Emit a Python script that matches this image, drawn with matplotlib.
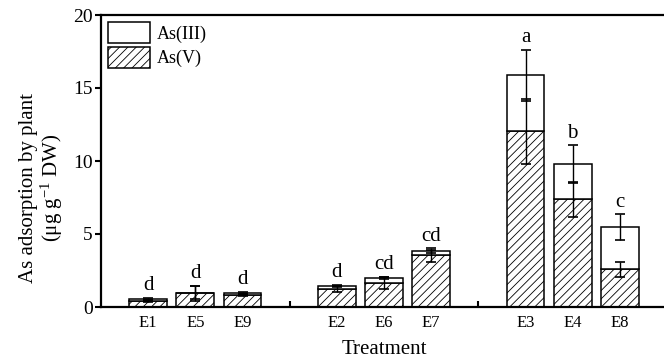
import numpy as np
import matplotlib
matplotlib.use("Agg")
import matplotlib.pyplot as plt

plt.rcParams['font.family'] = ['Liberation Serif', 'DejaVu Serif']
plt.rcParams['mathtext.fontset'] = 'custom'
plt.rcParams['mathtext.rm'] = 'Liberation Serif'
plt.rcParams['mathtext.it'] = 'Liberation Serif:italic'
plt.rcParams['hatch.linewidth'] = 0.6
plt.rcParams['hatch.color'] = '#555555'

# treatments, grouped with a blank slot between groups
treatments = ['E1', 'E5', 'E9', 'E2', 'E6', 'E7', 'E3', 'E4', 'E8']
positions = [1, 2, 3, 5, 6, 7, 9, 10, 11]
gap_positions = [4, 8]

as5 = [0.38, 0.93, 0.85, 1.25, 1.64, 3.55, 12.03, 7.37, 2.58]
as3 = [0.15, 0.05, 0.13, 0.17, 0.33, 0.26, 3.84, 2.40, 2.88]
err_total = [0.07, 0.46, 0.07, 0.07, 0.08, 0.12, 1.75, 1.30, 0.88]
err_as5 = [0.07, 0.50, 0.07, 0.20, 0.40, 0.47, 2.22, 1.22, 0.50]
letters = ['d', 'd', 'd', 'd', 'cd', 'cd', 'a', 'b', 'c']

as5 = np.array(as5)
as3 = np.array(as3)
total = as5 + as3

fig = plt.figure(figsize=(6.64, 3.63), dpi=100)
ax = fig.add_axes([101/664, 56/363, 566/664, 292/363])

ax.bar(positions, as5, width=0.8, color='white', edgecolor='black',
       linewidth=1.1, hatch='////', label='As(V)', zorder=2)
ax.bar(positions, as3, width=0.8, bottom=as5, color='white', edgecolor='black',
       linewidth=1.1, label='As(III)', zorder=2)

ax.errorbar(positions, total, yerr=err_total, fmt='none', ecolor='black',
            elinewidth=1.0, capsize=3.5, capthick=1.2, zorder=3)
ax.errorbar(positions, as5, yerr=err_as5, fmt='none', ecolor='black',
            elinewidth=1.0, capsize=3.5, capthick=1.2, zorder=3)

for p, t, e1, a, e2, lab in zip(positions, total, err_total, as5, err_as5, letters):
    top = max(t + e1, a + e2)
    ax.annotate(lab, (p, top), xytext=(0, 2), textcoords='offset points',
                ha='center', va='bottom', fontsize=15)

ax.set_xlim(0, 12)
ax.set_ylim(0, 20)
ax.set_yticks([0, 5, 10, 15, 20])
all_pos = sorted(positions + gap_positions)
ax.set_xticks(all_pos)
ax.set_xticklabels([treatments[positions.index(p)] if p in positions else '' for p in all_pos])

ax.tick_params(axis='x', direction='in', length=4, width=1.5, labelsize=12, pad=6)
ax.tick_params(axis='y', direction='out', length=4, width=1.5, labelsize=14, pad=2)
for s in ['left', 'bottom', 'top']:
    ax.spines[s].set_linewidth(1.6)
ax.spines['right'].set_visible(False)

ax.set_xlabel('Treatment', fontsize=15, labelpad=6)
fig.text(42/664, 1 - 188/363, 'As adsorption by plant\n(μg g$^{-1}$ DW)', rotation=90,
         ha='center', va='center', multialignment='center', fontsize=15, linespacing=1.05)

h, l = ax.get_legend_handles_labels()
ax.legend(h[::-1], l[::-1], loc='upper left', frameon=False, fontsize=13,
          handlelength=2.3, handleheight=1.4, handletextpad=0.4,
          borderaxespad=0.0, labelspacing=0.2)

fig.savefig('out.png', dpi=100)
